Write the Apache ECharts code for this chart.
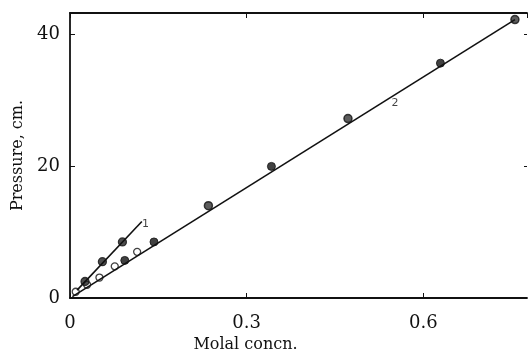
<!DOCTYPE html>
<html>
<head>
<meta charset="utf-8">
<script src="https://cdn.jsdelivr.net/npm/echarts@6/dist/echarts.min.js"></script>
<style>
  html, body { margin: 0; padding: 0; background: #fff; }
  #chart { width: 528px; height: 358px; }
</style>
</head>
<body>
<div id="chart"></div>
<script>
// curve 2 points (molal concn., pressure cm)
const openX = [0.0097, 0.029, 0.050, 0.076, 0.114];
const openY = [0.95, 2.0, 3.1, 4.8, 7.0];
const filledX = [0.093, 0.1426, 0.342, 0.629];
const filledY = [5.7, 8.5, 19.95, 35.6];
const halfX = [0.235, 0.472, 0.7555];
const halfY = [14.0, 27.2, 42.2];

// curve 1 points
const curve1X = [0.0255, 0.055, 0.089];
const curve1Y = [2.5, 5.5, 8.5];

// straight lines drawn through the points
const line1X = [0.012, 0.122];
const line1Y = [1.2, 11.6];
const line2X = [0.004, 0.7555];
const line2Y = [0.2, 42.2];

// curve labels
const curveNames = ['1', '2'];
const curveNameX = [0.128, 0.552];
const curveNameY = [11.2, 29.6];

const xTicks = [0, 0.3, 0.6];
const yTicks = [0, 20, 40];

const zip = (xs, ys) => xs.map((x, i) => [x, ys[i]]);

const chart = echarts.init(document.getElementById('chart'));

const serif = 'DejaVu Serif';
const ink = '#111';

const baseX = {
  type: 'value',
  min: 0,
  max: 0.776,
  interval: 0.3,
  splitLine: { show: false },
  axisLine: { show: true, onZero: false, lineStyle: { color: ink, width: 1.8 } },
  axisTick: { show: true, inside: true, length: 5, lineStyle: { color: ink, width: 1 } }
};
const baseY = {
  type: 'value',
  min: 0,
  max: 43.2,
  interval: 20,
  splitLine: { show: false },
  axisLine: { show: true, onZero: false, lineStyle: { color: ink, width: 1.8 } },
  axisTick: { show: true, inside: true, length: 5, lineStyle: { color: ink, width: 1 } }
};

chart.setOption({
  animation: false,
  backgroundColor: '#fff',
  grid: { left: 70, right: 1, top: 13, bottom: 60 },
  xAxis: [
    Object.assign({}, baseX, {
      position: 'bottom',
      name: 'Molal concn.',
      nameLocation: 'middle',
      nameGap: 38,
      nameTextStyle: { fontFamily: serif, fontSize: 16, color: ink, padding: [0, 106, 0, 0] },
      axisLabel: {
        show: true, margin: 16, fontFamily: serif, fontSize: 18, color: ink,
        showMaxLabel: false,
        formatter: v => (xTicks.includes(v) ? (v === 0 ? '0' : v.toFixed(1)) : '')
      }
    }),
    Object.assign({}, baseX, { position: 'top', axisLabel: { show: false } })
  ],
  yAxis: [
    Object.assign({}, baseY, {
      position: 'left',
      name: 'Pressure, cm.',
      nameLocation: 'middle',
      nameGap: 39,
      nameTextStyle: { fontFamily: serif, fontSize: 16, color: ink },
      axisLabel: {
        show: true, margin: 10, fontFamily: serif, fontSize: 18, color: ink,
        showMaxLabel: false,
        formatter: v => (yTicks.includes(v) ? String(v) : '')
      }
    }),
    Object.assign({}, baseY, {
      position: 'right',
      axisLine: { show: false, onZero: false },
      axisTick: { show: true, inside: true, length: 3, lineStyle: { color: ink, width: 1 } },
      axisLabel: { show: false }
    })
  ],
  series: [
    {
      type: 'line', data: zip(line2X, line2Y), symbol: 'none',
      lineStyle: { color: ink, width: 1.6 }
    },
    {
      type: 'line', data: zip(line1X, line1Y), symbol: 'none',
      lineStyle: { color: ink, width: 1.6 }
    },
    {
      type: 'scatter', data: zip(openX, openY), symbolSize: 7,
      itemStyle: { color: '#fff', borderColor: ink, borderWidth: 1.3 }
    },
    {
      type: 'scatter', data: zip(halfX, halfY), symbolSize: 8,
      itemStyle: { color: '#333', borderColor: ink, borderWidth: 1.5 }
    },
    {
      type: 'scatter', data: zip(filledX, filledY), symbolSize: 8,
      itemStyle: { color: ink, borderColor: ink, borderWidth: 1 }
    },
    {
      type: 'scatter', data: zip(curve1X, curve1Y), symbolSize: 8,
      itemStyle: { color: '#222', borderColor: ink, borderWidth: 1.3 }
    },
    {
      type: 'scatter', symbolSize: 0, silent: true,
      data: curveNames.map((n, i) => ({ value: [curveNameX[i], curveNameY[i]], name: n })),
      label: {
        show: true, position: 'inside', formatter: p => p.name,
        fontFamily: 'DejaVu Sans', fontSize: 11, color: ink
      }
    }
  ]
});
</script>
</body>
</html>
